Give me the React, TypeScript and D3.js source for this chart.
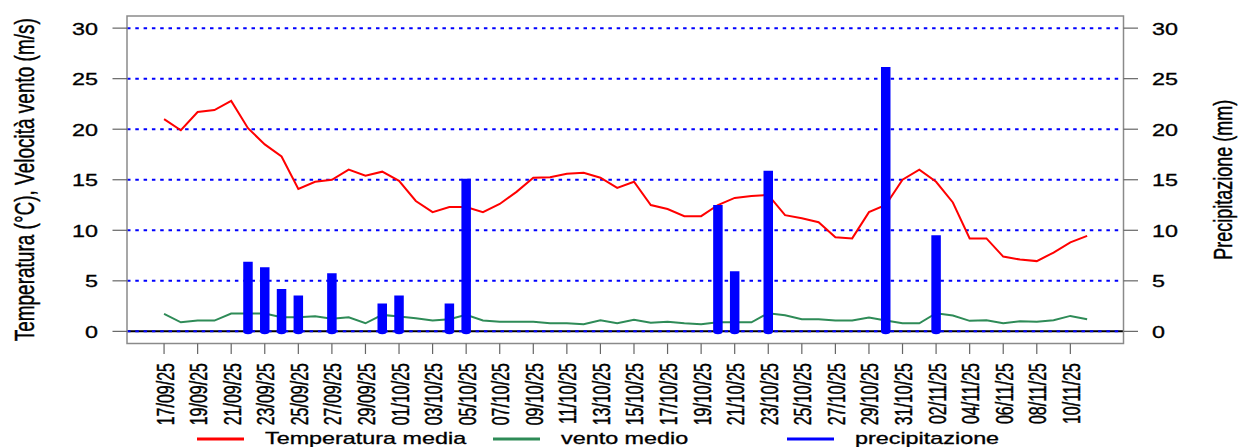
import React, { useEffect, useRef } from 'react';
import * as d3 from 'd3';

// daily values from 17/09/25 to 11/11/25
const startDay = '17/09/25';
const endDay = '11/11/25';

const temperatura = [
  21.0, 19.9, 21.7, 21.9, 22.8, 20.1, 18.5, 17.3, 14.1, 14.8,
  15.0, 16.0, 15.4, 15.8, 14.9, 12.9, 11.8, 12.3, 12.3, 11.8,
  12.6, 13.8, 15.2, 15.25, 15.6, 15.7, 15.2, 14.2, 14.8, 12.5,
  12.1, 11.4, 11.4, 12.5, 13.2, 13.4, 13.5, 11.5, 11.2, 10.8,
  9.3, 9.2, 11.8, 12.5, 15.0, 16.0, 14.8, 12.75, 9.2, 9.2,
  7.4, 7.1, 6.95, 7.8, 8.8, 9.45
];

const vento = [
  1.73, 0.9, 1.07, 1.07, 1.77, 1.77, 1.77, 1.4, 1.4, 1.5,
  1.24, 1.4, 0.8, 1.63, 1.47, 1.3, 1.07, 1.2, 1.63, 1.07,
  0.94, 0.94, 0.94, 0.8, 0.8, 0.7, 1.1, 0.8, 1.14, 0.85,
  0.94, 0.8, 0.7, 0.9, 0.9, 0.9, 1.8, 1.6, 1.2, 1.2,
  1.07, 1.07, 1.37, 1.07, 0.8, 0.8, 1.8, 1.57, 1.04, 1.1,
  0.8, 1.0, 0.95, 1.1, 1.53, 1.2
];

const precipitazione = [
  0, 0, 0, 0, 0, 6.9, 6.35, 4.2, 3.55, 0,
  5.75, 0, 0, 2.75, 3.55, 0, 0, 2.75, 15.1, 0,
  0, 0, 0, 0, 0, 0, 0, 0, 0, 0,
  0, 0, 0, 12.5, 5.95, 0, 15.9, 0, 0, 0,
  0, 0, 0, 26.15, 0, 0, 9.5, 0, 0, 0,
  0, 0, 0, 0, 0, 0
];

const tickLabels = [
  '17/09/25', '19/09/25', '21/09/25', '23/09/25', '25/09/25', '27/09/25', '29/09/25',
  '01/10/25', '03/10/25', '05/10/25', '07/10/25', '09/10/25', '11/10/25', '13/10/25',
  '15/10/25', '17/10/25', '19/10/25', '21/10/25', '23/10/25', '25/10/25', '27/10/25',
  '29/10/25', '31/10/25', '02/11/25', '04/11/25', '06/11/25', '08/11/25', '10/11/25'
];

const yTicks = [0, 5, 10, 15, 20, 25, 30];

const legendItems = [
  { label: 'Temperatura media', color: '#ff0000' },
  { label: 'vento medio', color: '#2e8b57' },
  { label: 'precipitazione', color: '#0000ff' }
];

const SX = 1.46; // horizontal stretch of the original raster text
const FONT = '"Liberation Sans", Arial, sans-serif';

export default function App() {
  const svgRef = useRef<SVGSVGElement>(null);

  useEffect(() => {
    if (!svgRef.current) return;
    const parse = d3.utcParse('%d/%m/%y');
    const days = d3.utcDay.range(parse(startDay)!, d3.utcDay.offset(parse(endDay)!, 1));

    const left = 127, right = 1123.5, top = 16, bottom = 343.5;

    const x = d3.scaleUtc()
      .domain([d3.utcHour.offset(days[0], -2.2 * 24), d3.utcHour.offset(days[days.length - 1], 2.2 * 24)])
      .range([left, right]);
    const y = d3.scaleLinear().domain([-1.2, 31.2]).range([bottom, top]);

    const svg = d3.select(svgRef.current);
    svg.selectAll('*').remove();

    svg.append('rect').attr('width', 1238).attr('height', 447).attr('fill', '#fff');

    // zero line
    svg.append('line')
      .attr('x1', left).attr('x2', right)
      .attr('y1', y(0)).attr('y2', y(0))
      .attr('stroke', '#000').attr('stroke-width', 2);

    // dotted grid
    svg.append('g').selectAll('line')
      .data(yTicks)
      .enter().append('line')
      .attr('x1', left).attr('x2', right)
      .attr('y1', d => y(d)).attr('y2', d => y(d))
      .attr('stroke', '#0000ff').attr('stroke-width', 2)
      .attr('stroke-dasharray', '3.5 4.8');

    // series lines
    const line = d3.line<number>()
      .x((_, i) => x(days[i]))
      .y(d => y(d));

    svg.append('path')
      .datum(vento)
      .attr('d', line)
      .attr('fill', 'none')
      .attr('stroke', '#2e8b57').attr('stroke-width', 2);

    svg.append('path')
      .datum(temperatura)
      .attr('d', line)
      .attr('fill', 'none')
      .attr('stroke', '#ff0000').attr('stroke-width', 2);

    // precipitation bars, flat top and round foot
    const bw = 9.5;
    svg.append('g').selectAll('path')
      .data(precipitazione.map((v, i) => ({ v, d: days[i] })).filter(p => p.v > 0))
      .enter().append('path')
      .attr('d', p => {
        const cx = x(p.d), y0 = y(0), y1 = y(p.v);
        return `M${cx - bw / 2},${y1}L${cx + bw / 2},${y1}L${cx + bw / 2},${y0}` +
          `A${bw / 2},3 0 0 1 ${cx - bw / 2},${y0}Z`;
      })
      .attr('fill', '#0000ff');

    // box
    svg.append('rect')
      .attr('x', left).attr('y', top)
      .attr('width', right - left).attr('height', bottom - top)
      .attr('fill', 'none').attr('stroke', '#8a8a8a').attr('stroke-width', 1.5);

    const addText = (transform: string, txt: string, size: number, anchor = 'start', dy = 0) =>
      svg.append('text')
        .attr('transform', transform)
        .attr('y', dy)
        .attr('text-anchor', anchor)
        .attr('fill', '#000')
        .attr('stroke', '#000').attr('stroke-width', 0.3)
        .style('font-family', FONT).style('font-size', `${size}px`)
        .text(txt);

    // y ticks both sides
    const axisColor = '#666';
    yTicks.forEach(t => {
      svg.append('line').attr('x1', left - 14.5).attr('x2', left)
        .attr('y1', y(t)).attr('y2', y(t)).attr('stroke', axisColor).attr('stroke-width', 1.2);
      svg.append('line').attr('x1', right).attr('x2', right + 14.5)
        .attr('y1', y(t)).attr('y2', y(t)).attr('stroke', axisColor).attr('stroke-width', 1.2);
      addText(`translate(98,${y(t) + 6.5}) scale(${SX},1)`, String(t), 16, 'end');
      addText(`translate(1152,${y(t) + 6.5}) scale(${SX},1)`, String(t), 16, 'start');
    });

    // x ticks and rotated labels
    tickLabels.forEach(lbl => {
      const tx = x(parse(lbl)!);
      svg.append('line').attr('x1', tx).attr('x2', tx)
        .attr('y1', bottom).attr('y2', bottom + 10.5)
        .attr('stroke', axisColor).attr('stroke-width', 1.2);
      addText(`translate(${tx},363) scale(${SX},1) rotate(-90)`, lbl, 16, 'end', 6.5);
    });

    // axis titles
    addText(`translate(34,${(top + bottom) / 2}) scale(${SX},1) rotate(-90)`,
      'Temperatura (°C), Velocità vento (m/s)', 19, 'middle');
    addText(`translate(1232,${(top + bottom) / 2}) scale(${SX},1) rotate(-90)`,
      'Precipitazione (mm)', 18, 'middle');

    // legend
    const legendX = [197, 493, 787];
    legendItems.forEach((it, i) => {
      svg.append('line')
        .attr('x1', legendX[i]).attr('x2', legendX[i] + 47)
        .attr('y1', 439).attr('y2', 439)
        .attr('stroke', it.color).attr('stroke-width', 3);
      addText(`translate(${legendX[i] + 68},444) scale(${SX},1)`, it.label, 16);
    });
  }, []);

  return (
    <svg ref={svgRef} width={1238} height={447}
      style={{ position: 'absolute', left: 0, top: 0, display: 'block' }} />
  );
}
